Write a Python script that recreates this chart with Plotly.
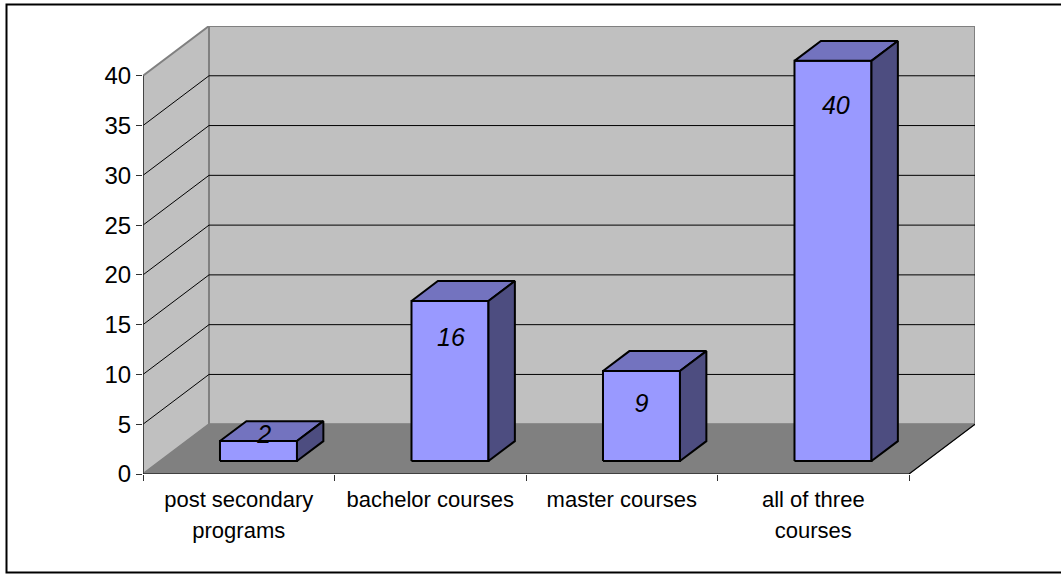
import plotly.graph_objects as go

categories = ["post secondary<br>programs", "bachelor courses", "master courses", "all of three<br>courses"]
values = [2, 16, 9, 40]
y_ticks = [0, 5, 10, 15, 20, 25, 30, 35, 40]

# projection of the chart box: depth of the box in axis units
DX = 0.3446
DY = 5.0
BAR_W = 0.402
BAR_SHIFT = 0.103
BAR_SCALE = 1.005
D0, D1 = 0.26, 0.66
LABEL_DROP = [-0.4, 3.8, 3.4, 4.5]
LABEL_DX = [0.03, 0.005, 0.0, 0.015]
N = len(categories)

def P(x, y, d=0.0):
    return x + d * DX, y + d * DY

def poly(fig, pts, fill=None, line=None, width=1):
    xs = [p[0] for p in pts]
    ys = [p[1] for p in pts]
    fig.add_trace(go.Scatter(
        x=xs, y=ys, mode="lines",
        fill="toself" if fill else "none", fillcolor=fill,
        line=dict(color=line or "rgba(0,0,0,0)", width=width),
        hoverinfo="skip", showlegend=False))

fig = go.Figure()
top = y_ticks[-1]
GRAY = "#808080"

# walls and floor
poly(fig, [P(0, 0, 1), P(0, top, 1), P(N, top, 1), P(N, 0, 1), P(0, 0, 1)], "#C0C0C0", GRAY, 2)
poly(fig, [P(0, 0), P(0, top), P(0, top, 1), P(0, 0, 1), P(0, 0)], "#C0C0C0", GRAY, 2)
poly(fig, [P(0, 0), P(0, 0, 1), P(N, 0, 1), P(N, 0), P(0, 0)], "#808080", GRAY, 1)

# gridlines
for v in y_ticks[1:-1]:
    poly(fig, [P(0, v), P(0, v, 1), P(N, v, 1)], None, "#000000", 1)

# axis lines
poly(fig, [P(0, 0), P(0, top)], None, "#303030", 1.5)
poly(fig, [P(N, 0, 1), P(N, 0), P(0, 0)], None, "#000000", 1.2)

# bars
for i, v in enumerate(values):
    h = v * BAR_SCALE
    x0 = i + 0.5 + BAR_SHIFT - D0 * DX - BAR_W / 2
    x1 = x0 + BAR_W
    fd = D0
    bd = D1
    poly(fig, [P(x0, 0, fd), P(x1, 0, fd), P(x1, h, fd), P(x0, h, fd), P(x0, 0, fd)], "#9999FF", "#000000", 2)
    poly(fig, [P(x0, h, fd), P(x1, h, fd), P(x1, h, bd), P(x0, h, bd), P(x0, h, fd)], "#7373BF", "#000000", 2)
    poly(fig, [P(x1, 0, fd), P(x1, 0, bd), P(x1, h, bd), P(x1, h, fd), P(x1, 0, fd)], "#4D4D80", "#000000", 2)

# value labels
fig.add_trace(go.Scatter(
    x=[i + 0.5 + BAR_SHIFT + LABEL_DX[i] for i in range(N)],
    y=[values[i] + D0 * DY - LABEL_DROP[i] for i in range(N)],
    mode="text", text=[str(v) for v in values],
    textposition="middle center",
    textfont=dict(family="Liberation Sans", size=25, color="#000000", style="italic"),
    hoverinfo="skip", showlegend=False))

x_tick_text = ["<br>".join(f"<span style='font-size:22px'>{part}</span>" for part in c.split("<br>"))
               for c in categories]

fig.update_layout(
    width=1061, height=574, autosize=False,
    margin=dict(l=143, r=86, t=26, b=100, pad=0),
    paper_bgcolor="#FFFFFF", plot_bgcolor="#FFFFFF",
    showlegend=False,
    font=dict(family="Liberation Sans", size=20, color="#000000"),
    xaxis=dict(range=[0, N + DX], tickvals=[i + 0.5 for i in range(N)], ticktext=x_tick_text,
               showgrid=False, zeroline=False, showline=False, ticks="",
               minor=dict(tickvals=list(range(N + 1)), ticks="outside", ticklen=6,
                          tickcolor="#303030", tickwidth=1, showgrid=False),
               ticklabelstandoff=8, tickfont=dict(size=24)),
    yaxis=dict(range=[0, top + DY], tickvals=y_ticks, ticktext=[str(t) for t in y_ticks],
               showgrid=False, zeroline=False, showline=False, ticks="outside", ticklen=6,
               tickcolor="#303030", tickwidth=1, tickfont=dict(size=24)),
    shapes=[dict(type="rect", xref="paper", yref="paper",
                 x0=(6.5 - 143) / 832, x1=(1065 - 143) / 832,
                 y0=(474 - 572.5) / 448, y1=(474 - 4.5) / 448,
                 line=dict(color="#000000", width=2), fillcolor="rgba(0,0,0,0)", layer="below")],
)
fig.update_traces(cliponaxis=False)
fig.write_html("out.html", config={"displayModeBar": False},
               post_script="document.body.style.margin='0';document.body.style.overflow='hidden';")
